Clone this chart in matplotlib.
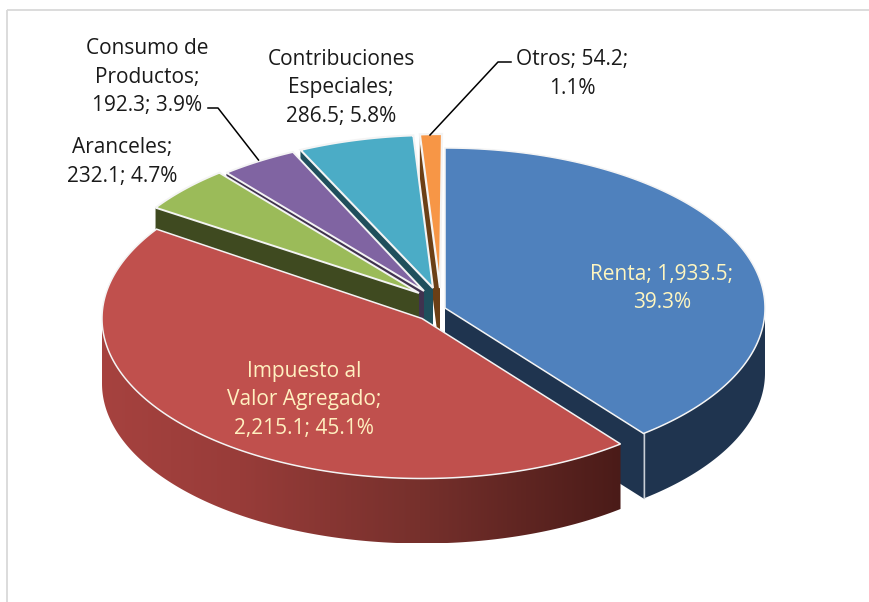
import numpy as np
import matplotlib
matplotlib.use("Agg")
import matplotlib.pyplot as plt
from matplotlib.patches import Polygon

# --- data ---
categories = ["Renta", "Impuesto al Valor Agregado", "Aranceles",
              "Consumo de Productos", "Contribuciones Especiales", "Otros"]
values = [1933.5, 2215.1, 232.1, 192.3, 286.5, 54.2]
percents = [39.3, 45.1, 4.7, 3.9, 5.8, 1.1]
label_breaks = ["Renta; {v};\n{p}%",
                "Impuesto al\nValor Agregado;\n{v}; {p}%",
                "Aranceles;\n{v}; {p}%",
                "Consumo de\nProductos;\n{v}; {p}%",
                "Contribuciones\nEspeciales;\n{v}; {p}%",
                "Otros; {v};\n{p}%"]

# --- style / layout ---
top_colors = ["#4F81BD", "#C0504D", "#9BBB59", "#8064A2", "#4BACC6", "#F79646"]
wall_colors = ["#1F344F", "#4A1C19", "#3F4A20", "#40324F", "#1F4F5C", "#6B3F16"]
rim_cx = [445, 422, 421, 428, 435.5, 442]
rim_cy = [308, 318.5, 297, 297, 295, 294]
apex_x = [445, 422, 419, 424, 433, 440]
apex_y = [308, 318.5, 293, 291, 288, 288]
edge_lw = [1.1, 1.1, 1.4, 1.4, 1.5, 1.6]
label_x = [662, 304, 122, 147, 341, 572]
label_y = [288.5, 400, 162, 77, 88, 74]
label_col = ["#FFF6C0", "#FFF0C0", "#1A1A1A", "#1A1A1A", "#1A1A1A", "#1A1A1A"]
RX, RY, DEPTH = 320, 160, 65
FONT = "Open Sans"
FS = 15.0
LSP = 1.47

fig = plt.figure(figsize=(8.7, 6.02), dpi=100)
ax = fig.add_axes([0, 0, 1, 1])
ax.set_xlim(0, 870)
ax.set_ylim(602, 0)
ax.axis("off")

# chart frame: only the top and left borders fall inside the picture
ax.plot([7.5, 870], [9.5, 9.5], color="#D9D9D9", lw=1.3, zorder=0, solid_capstyle="butt")
ax.plot([7.5, 7.5], [9.5, 602], color="#D9D9D9", lw=1.3, zorder=0, solid_capstyle="butt")

total = sum(values)
edges = np.concatenate([[0], np.cumsum(values)]) / total * 2 * np.pi


def rim(i, t):
    return rim_cx[i] + RX * np.sin(t), rim_cy[i] - RY * np.cos(t)


# horizontal shading of the front wall of the largest slice
grad_x = [102, 240, 420, 622]
grad_rgb = [[166, 66, 63], [152, 60, 57], [118, 48, 44], [74, 27, 24]]

# paint back slices first, then Renta and finally the large front slice
for z, i in enumerate([5, 4, 3, 2, 0, 1]):
    t0, t1 = edges[i], edges[i + 1]
    base = 10 + z * 5
    # radial cut faces
    for t, show in ((t0, np.sin(t0) < -1e-6), (t1, np.sin(t1) > 1e-6)):
        if show:
            rx, ry = rim(i, t)
            ax.add_patch(Polygon([(apex_x[i], apex_y[i]), (rx, ry), (rx, ry + DEPTH),
                                  (apex_x[i], apex_y[i] + DEPTH)], closed=True,
                                 fc=wall_colors[i], ec="none", zorder=base))
    # outer wall
    a = max(t0, np.pi / 2)
    b = min(t1, 3 * np.pi / 2)
    if b > a:
        tt = np.linspace(a, b, 200)
        xs, ys = rim(i, tt)
        pts = np.column_stack([np.r_[xs, xs[::-1]], np.r_[ys, ys[::-1] + DEPTH]])
        if i == 1:
            clip = Polygon(pts, closed=True, fc="none", ec="none", transform=ax.transData)
            ax.add_patch(clip)
            gx = np.linspace(xs.min(), xs.max(), 600)
            img = np.stack([np.interp(gx, grad_x, [c[k] for c in grad_rgb]) / 255
                            for k in range(3)], axis=-1)[None, :, :]
            im = ax.imshow(img, extent=(xs.min(), xs.max(), ys.max() + DEPTH, ys.min()),
                           aspect="auto", zorder=base + 1, interpolation="bilinear")
            im.set_clip_path(clip)
            ax.set_xlim(0, 870)
            ax.set_ylim(602, 0)
        else:
            ax.add_patch(Polygon(pts, closed=True, fc=wall_colors[i], ec="none", zorder=base + 1))
    if i == 0:
        rx, ry = rim(i, t1)
        ax.plot([rx, rx], [ry, ry + DEPTH], color="#C8CED6", lw=1.0, zorder=base + 2)
    # top face
    tt = np.linspace(t0, t1, 200)
    xs, ys = rim(i, tt)
    pts = np.column_stack([np.r_[apex_x[i], xs], np.r_[apex_y[i], ys]])
    ax.add_patch(Polygon(pts, closed=True, fc=top_colors[i], ec="#F4F4F4", lw=edge_lw[i],
                         joinstyle="miter", zorder=base + 3))

# leader lines
ax.plot([208, 218, 258.5], [108, 108, 160], color="black", lw=1.1, zorder=60)
ax.plot([511, 498, 430], [62, 62, 135], color="black", lw=1.1, zorder=60)

# data labels
for i in range(len(values)):
    s = label_breaks[i].format(v=f"{values[i]:,.1f}", p=percents[i])
    ax.text(label_x[i], label_y[i], s, ha="center", va="center", multialignment="center",
            color=label_col[i], family=FONT, fontsize=FS, linespacing=LSP, zorder=70)

fig.savefig("out.png", dpi=100, facecolor="white")
